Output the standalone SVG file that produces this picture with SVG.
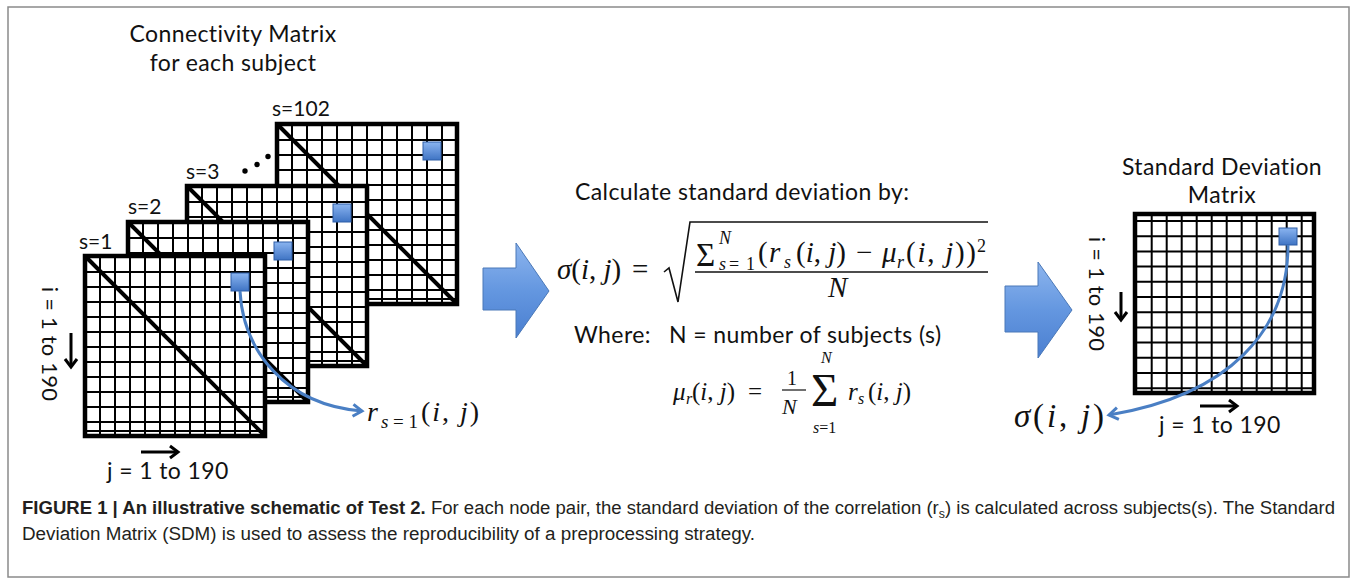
<svg xmlns="http://www.w3.org/2000/svg" width="1357" height="583" viewBox="0 0 1357 583">
<style>
.t{font-family:Lato,"Open Sans","Liberation Sans",sans-serif;font-size:23px;letter-spacing:0.4px;fill:#111}
.s{font-size:21px;letter-spacing:0}
.ax{font-size:22px;letter-spacing:0.2px}
.m{font-family:"Liberation Serif","DejaVu Serif",serif;fill:#111}
.i{font-style:italic}
.grid{fill:none;stroke:#000;stroke-width:2}
.bd{fill:none;stroke:#000;stroke-width:4.5}
.bg{fill:#fff}
.diag{stroke:#000;stroke-width:4}
.sq{fill:url(#sqg);stroke:#2f5fa8;stroke-width:1}
.curve{fill:none;stroke:#4a7fc4;stroke-width:3;marker-end:url(#bh)}
.blk{fill:none;stroke:#000;stroke-width:3;marker-end:url(#kh)}
.big{fill:url(#arg);stroke:#4a78b8;stroke-width:1}
.cap{font-family:"Liberation Sans Narrow","Liberation Sans",Arial,sans-serif;font-size:18px;fill:#231f20}
</style>
<defs>
<linearGradient id="sqg" x1="0" y1="0" x2="0" y2="1"><stop offset="0" stop-color="#8ab4f0"/><stop offset="1" stop-color="#3f74c4"/></linearGradient>
<linearGradient id="arg" x1="0" y1="0" x2="0" y2="1"><stop offset="0" stop-color="#8db5ee"/><stop offset="0.5" stop-color="#6497e0"/><stop offset="1" stop-color="#4a7fd0"/></linearGradient>
<marker id="bh" markerUnits="userSpaceOnUse" markerWidth="16" markerHeight="16" refX="12" refY="8" orient="auto"><path d="M3,2 L12,8 L3,14" fill="none" stroke="#4a7fc4" stroke-width="3"/></marker>
<marker id="kh" markerUnits="userSpaceOnUse" markerWidth="16" markerHeight="16" refX="12" refY="8" orient="auto"><path d="M4,2 L12,8 L4,14" fill="none" stroke="#000" stroke-width="3"/></marker>
<path id="lgrid" class="grid" d="M15 0V180M30 0V180M45 0V180M60 0V180M75 0V180M90 0V180M105 0V180M120 0V180M135 0V180M150 0V180M165 0V180M0 16H180M0 31H180M0 46H180M0 61H180M0 76H180M0 91H180M0 106H180M0 121H180M0 136H180M0 151H180M0 166H180M0 175H180"/>
<path id="rgrid" class="grid" d="M16.7 0V179M31.7 0V179M46.7 0V179M61.7 0V179M76.7 0V179M91.7 0V179M106.7 0V179M121.7 0V179M136.7 0V179M151.7 0V179M166.7 0V179M0 7H179M0 22.2H179M0 37.4H179M0 52.6H179M0 67.8H179M0 83H179M0 98.2H179M0 113.4H179M0 128.6H179M0 143.8H179M0 159H179M0 174.2H179"/>
</defs>
<rect x="8" y="7" width="1341" height="570" fill="#fff" stroke="#8a8a8a" stroke-width="1.5"/>

<g id="title-left">
<text class="t" x="233" y="42" text-anchor="middle">Connectivity Matrix</text>
<text class="t" x="233" y="71" text-anchor="middle">for each subject</text>
</g>

<g id="matrix-s102">
<rect class="bg" x="277" y="124" width="180" height="180"/>
<use href="#lgrid" x="277" y="124"/>
<line class="diag" x1="277" y1="124" x2="457" y2="304"/>
<rect class="bd" x="277" y="124" width="180" height="180"/>
<rect class="sq" x="423" y="142" width="18" height="18"/>
<text class="t s" x="272" y="116">s=102</text>
</g>
<g id="dots">
<circle cx="245" cy="171" r="2.7"/><circle cx="257" cy="164.5" r="2.7"/><circle cx="268" cy="156.5" r="2.7"/>
</g>
<g id="matrix-s3">
<rect class="bg" x="187" y="186" width="180" height="180"/>
<use href="#lgrid" x="187" y="186"/>
<line class="diag" x1="187" y1="186" x2="367" y2="366"/>
<rect class="bd" x="187" y="186" width="180" height="180"/>
<rect class="sq" x="333" y="204" width="18" height="18"/>
<text class="t s" x="186" y="179">s=3</text>
</g>
<g id="matrix-s2">
<rect class="bg" x="128" y="222" width="180" height="180"/>
<use href="#lgrid" x="128" y="222"/>
<line class="diag" x1="128" y1="222" x2="308" y2="402"/>
<rect class="bd" x="128" y="222" width="180" height="180"/>
<rect class="sq" x="274" y="242" width="18" height="18"/>
<text class="t s" x="128" y="214">s=2</text>
</g>
<g id="matrix-s1">
<rect class="bg" x="85" y="256" width="180" height="180"/>
<use href="#lgrid" x="85" y="256"/>
<line class="diag" x1="85" y1="256" x2="265" y2="436"/>
<rect class="bd" x="85" y="256" width="180" height="180"/>
<rect class="sq" x="231" y="273" width="18" height="18"/>
<text class="t s" x="79" y="249">s=1</text>
</g>

<g id="axis-left">
<text class="t ax" transform="translate(42,344) rotate(90)" text-anchor="middle">i = 1 to 190</text>
<text class="t" x="107" y="479">j = 1 to 190</text>
</g>

<g id="label-r">
<text class="m i" x="367" y="421" font-size="28">r</text>
<text class="m" x="381" y="428" font-size="19" textLength="37"><tspan class="i">s</tspan>=1</text>
<text class="m" x="421" y="421" font-size="28" textLength="58">(<tspan class="i">i</tspan>, <tspan class="i">j</tspan>)</text>
</g>

<g id="arrow-1"><path class="big" d="M483,268 L516,268 L516,243 L549,291 L516,338 L516,310 L483,310 Z"/></g>

<g id="formula">
<text class="t" x="575" y="200">Calculate standard deviation by:</text>
<text class="m" x="557" y="279" font-size="29"><tspan class="i">σ</tspan>(<tspan class="i">i</tspan>, <tspan class="i">j</tspan>)</text>
<text class="m" x="632" y="279" font-size="29">=</text>
<path d="M664,272 L669,268 L678,302 L690,222 L988,222" fill="none" stroke="#111" stroke-width="1.6"/>
<text class="m" x="696" y="266" font-size="33">Σ</text>
<text class="m i" x="719" y="244" font-size="18">N</text>
<text class="m" x="719" y="270" font-size="18"><tspan class="i">s</tspan><tspan x="729">=</tspan><tspan x="746">1</tspan></text>
<text class="m" x="758" y="262" font-size="29">(<tspan class="i" x="769">r</tspan></text>
<text class="m i" x="784" y="268" font-size="18">s</text>
<text class="m" x="796" y="262" font-size="29">(<tspan class="i">i</tspan>, <tspan class="i">j</tspan>)</text>
<text class="m" x="856" y="262" font-size="29">−</text>
<text class="m i" x="882" y="262" font-size="29">μ</text>
<text class="m i" x="897" y="268" font-size="18">r</text>
<text class="m" x="906" y="262" font-size="29" textLength="70">(<tspan class="i">i</tspan>, <tspan class="i">j</tspan>))</text>
<text class="m" x="977" y="252" font-size="18">2</text>
<line x1="695" y1="272" x2="988" y2="272" stroke="#111" stroke-width="1.3"/>
<text class="m i" x="828" y="297" font-size="29">N</text>
<text class="t" x="574" y="343">Where:</text>
<text class="t" x="669" y="343">N = number of subjects (s)</text>
<text class="m i" x="673" y="400" font-size="25">μ</text>
<text class="m i" x="686" y="404" font-size="16">r</text>
<text class="m" x="692" y="400" font-size="25">(<tspan class="i">i</tspan>, <tspan class="i">j</tspan>)</text>
<text class="m" x="748" y="400" font-size="25">=</text>
<text class="m" x="787" y="385" font-size="20">1</text>
<line x1="782" y1="390" x2="806" y2="390" stroke="#111" stroke-width="1.2"/>
<text class="m i" x="782" y="414" font-size="22">N</text>
<text class="m" x="811" y="406" font-size="47">Σ</text>
<text class="m i" x="821" y="363" font-size="16">N</text>
<text class="m" x="813" y="433" font-size="16"><tspan class="i">s</tspan>=1</text>
<text class="m i" x="848" y="400" font-size="25">r</text>
<text class="m i" x="858" y="404" font-size="16">s</text>
<text class="m" x="868" y="400" font-size="25">(<tspan class="i">i</tspan>, <tspan class="i">j</tspan>)</text>
</g>

<g id="arrow-2"><path class="big" d="M1005,286 L1038,286 L1038,262 L1072,310 L1038,358 L1038,332 L1005,332 Z"/></g>

<g id="sdm">
<text class="t" x="1222" y="175" text-anchor="middle">Standard Deviation</text>
<text class="t" x="1222" y="203" text-anchor="middle">Matrix</text>
<rect class="bg" x="1135" y="214" width="179" height="179"/>
<use href="#rgrid" x="1135" y="214"/>
<rect class="bd" x="1135" y="214" width="179" height="179"/>
<rect class="sq" x="1279" y="228" width="18" height="17"/>
<text class="t ax" transform="translate(1089,294) rotate(90)" text-anchor="middle">i = 1 to 190</text>
<text class="t" x="1159" y="433">j = 1 to 190</text>
<text class="m" x="1014" y="427" font-size="33" textLength="90"><tspan class="i">σ</tspan>(<tspan class="i">i</tspan>, <tspan class="i">j</tspan>)</text>
</g>

<g id="connectors">
<path class="curve" d="M240,291 C243,350 285,405 362,411"/>
<path class="curve" d="M1288,245 C1288,330 1230,395 1109,415"/>
<line class="blk" x1="71" y1="333" x2="71" y2="367"/>
<line class="blk" x1="141" y1="452" x2="178" y2="452"/>
<line class="blk" x1="1121" y1="292" x2="1121" y2="320"/>
<line class="blk" x1="1200" y1="406" x2="1237" y2="406"/>
</g>

<g id="caption">
<text class="cap" x="22" y="514" textLength="1313" lengthAdjust="spacingAndGlyphs"><tspan font-weight="bold">FIGURE 1 | An illustrative schematic of Test 2.</tspan> For each node pair, the standard deviation of the correlation (r<tspan dy="4" font-size="12">s</tspan><tspan dy="-4">) is calculated across subjects(s). The Standard</tspan></text>
<text class="cap" x="22" y="540" textLength="733" lengthAdjust="spacingAndGlyphs">Deviation Matrix (SDM) is used to assess the reproducibility of a preprocessing strategy.</text>
</g>
</svg>
